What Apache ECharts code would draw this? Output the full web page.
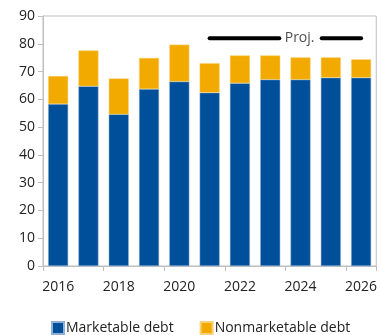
<!DOCTYPE html>
<html>
<head>
<meta charset="utf-8">
<script src="https://cdn.jsdelivr.net/npm/echarts@6/dist/echarts.min.js"></script>
<style>
  html, body { margin: 0; padding: 0; background: #fff; }
  #chart { width: 380px; height: 335px; }
</style>
</head>
<body>
<div id="chart"></div>
<script>
// Federal debt held by the public, split by type (share, %)
const years = ['2016', '2017', '2018', '2019', '2020', '2021', '2022', '2023', '2024', '2025', '2026'];
const marketable = [58.3, 64.7, 54.6, 63.7, 66.4, 62.4, 65.8, 67.1, 67.1, 67.8, 67.8];
const nonmarketable = [10.1, 12.9, 12.9, 11.2, 13.3, 10.6, 10.0, 8.7, 8.0, 7.3, 6.6];
const yTicks = [0, 10, 20, 30, 40, 50, 60, 70, 80, 90];

// Projection bracket: from the first projected year to the last, split around its label
const projFrom = 2021;
const projTo = 2026;
const projLevel = 82;
const projGapFrom = 2023.3;
const projGapTo = 2024.7;
const projLabelAt = 2023.97;

const font = '"Open Sans", "Noto Sans", sans-serif';
const gray = '#bfbfbf';

const chart = echarts.init(document.getElementById('chart'), null, { renderer: 'canvas' });

chart.setOption({
  animation: false,
  textStyle: { fontFamily: font },
  grid: {
    left: 43, right: 1, top: 16, bottom: 69,
    show: true, borderColor: gray, borderWidth: 1
  },
  legend: {
    left: 46, top: 316,
    itemWidth: 12, itemHeight: 12, itemGap: 26,
    icon: 'rect',
    textStyle: { fontFamily: font, fontSize: 14, color: '#222', padding: [0, 0, 0, -3] },
    data: ['Marketable debt', 'Nonmarketable debt']
  },
  xAxis: [{
    type: 'category',
    data: years,
    boundaryGap: true,
    axisLine: { lineStyle: { color: gray } },
    axisTick: { show: true, length: 5, lineStyle: { color: gray } },
    axisLabel: { interval: 1, fontSize: 14, color: '#222', margin: 14, fontFamily: font }
  }, {
    type: 'value',
    min: 2015.5, max: 2026.5,
    show: false
  }],
  yAxis: {
    type: 'value',
    min: yTicks[0], max: yTicks[yTicks.length - 1], interval: 10,
    splitLine: { show: false },
    axisLine: { show: true, lineStyle: { color: gray } },
    axisTick: { show: true, length: 5, lineStyle: { color: gray } },
    axisLabel: { fontSize: 14, color: '#222', margin: 8, fontFamily: font }
  },
  series: [
    {
      name: 'Marketable debt',
      type: 'bar',
      stack: 'debt',
      data: marketable,
      barWidth: '66%',
      itemStyle: { color: '#004f9b', borderColor: '#8fb0d4', borderWidth: 0.5 }
    },
    {
      name: 'Nonmarketable debt',
      type: 'bar',
      stack: 'debt',
      data: nonmarketable,
      barWidth: '66%',
      itemStyle: { color: '#f2aa00', borderColor: '#f7d27a', borderWidth: 0.5 }
    },
    {
      type: 'line',
      xAxisIndex: 1,
      data: [[projFrom, projLevel], [projGapFrom, projLevel]],
      symbol: 'none',
      silent: true,
      lineStyle: { color: '#000', width: 4, cap: 'round' }
    },
    {
      type: 'line',
      xAxisIndex: 1,
      data: [[projGapTo, projLevel], [projTo, projLevel]],
      symbol: 'none',
      silent: true,
      lineStyle: { color: '#000', width: 4, cap: 'round' }
    },
    {
      type: 'scatter',
      xAxisIndex: 1,
      data: [[projLabelAt, projLevel]],
      symbolSize: 0,
      silent: true,
      label: {
        show: true, position: 'inside', formatter: 'Proj.',
        fontSize: 14, color: '#222', fontFamily: font
      }
    }
  ]
});
</script>
</body>
</html>
